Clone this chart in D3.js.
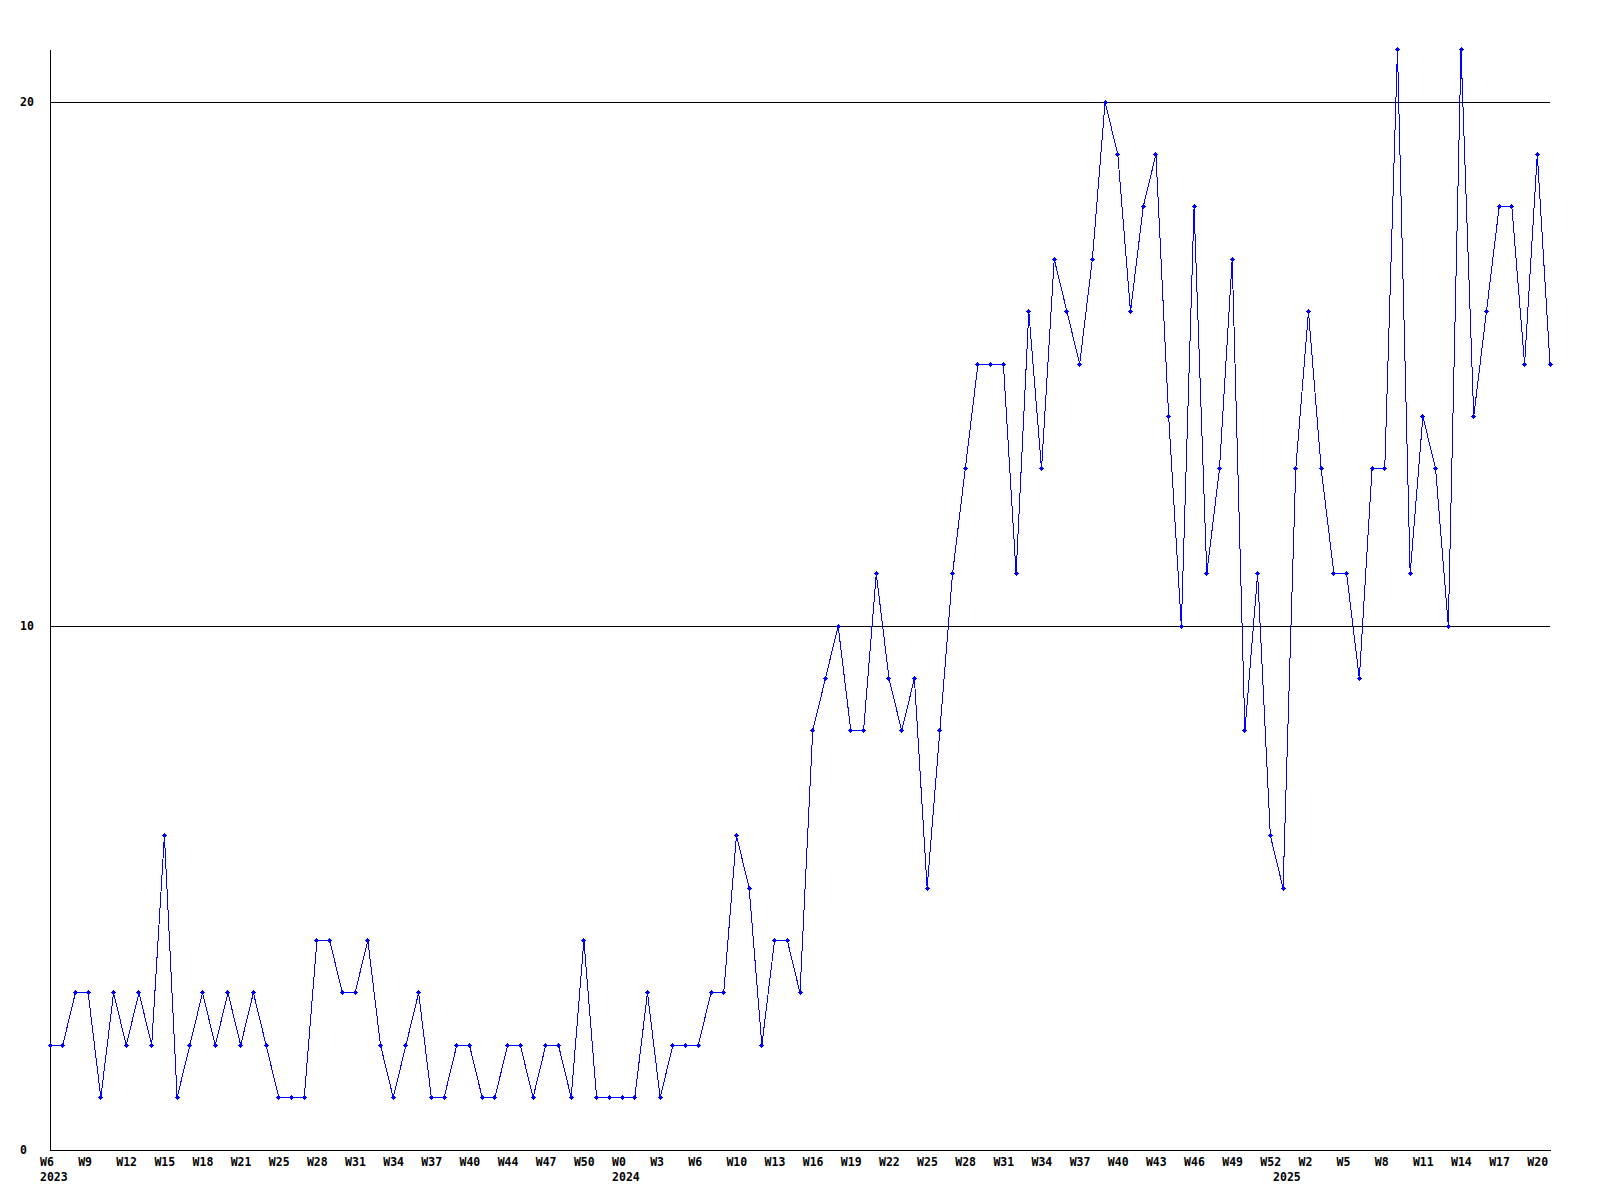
<!DOCTYPE html>
<html>
<head>
<meta charset="utf-8">
<script src="https://cdn.jsdelivr.net/npm/d3@7"></script>
<style>
  html, body { margin: 0; padding: 0; background: #fff; }
  svg { display: block; }
  text { font-family: "DejaVu Sans Mono", "Liberation Mono", monospace; font-weight: bold; font-size: 11.5px; fill: #000; }
</style>
</head>
<body>
<svg id="chart" width="1600" height="1200"></svg>
<script>
// Weekly values, W6 2023 .. W21 2025 (119 points)
const values = [
  2, 2, 3, 3, 1, 3, 2, 3, 2, 6,
  1, 2, 3, 2, 3, 2, 3, 2, 1, 1,
  1, 4, 4, 3, 3, 4, 2, 1, 2, 3,
  1, 1, 2, 2, 1, 1, 2, 2, 1, 2,
  2, 1, 4, 1, 1, 1, 1, 3, 1, 2,
  2, 2, 3, 3, 6, 5, 2, 4, 4, 3,
  8, 9, 10, 8, 8, 11, 9, 8, 9, 5,
  8, 11, 13, 15, 15, 15, 11, 16, 13, 17,
  16, 15, 17, 20, 19, 16, 18, 19, 14, 10,
  18, 11, 13, 17, 8, 11, 6, 5, 13, 16,
  13, 11, 11, 9, 13, 13, 21, 11, 14, 13,
  10, 21, 14, 16, 18, 18, 15, 19, 15
];

// x-axis week labels, one every third point
const weekLabels = [
  "W6", "W9", "W12", "W15", "W18", "W21", "W25", "W28", "W31", "W34",
  "W37", "W40", "W44", "W47", "W50", "W0", "W3", "W6", "W10", "W13",
  "W16", "W19", "W22", "W25", "W28", "W31", "W34", "W37", "W40", "W43",
  "W46", "W49", "W52", "W2", "W5", "W8", "W11", "W14", "W17", "W20"
];
const weekLabelStep = 3;

// year labels and the point index they sit under
const yearLabels = ["2023", "2024", "2025"];
const yearLabelIndex = [0, 45, 97];

const yTicks = [0, 10, 20];
const yMax = 21;

const svg = d3.select("#chart");
const left = 50, right = 1550, bottom = 1150, ref20 = 102;

const x = d3.scalePoint().domain(d3.range(values.length)).range([left, right]);
const yPerUnit = (bottom - ref20) / 20;
const y = d3.scaleLinear().domain([0, yMax]).range([bottom, bottom - yMax * yPerUnit]);

// horizontal grid lines (non-zero ticks)
svg.append("g").selectAll("line")
  .data(yTicks.filter(d => d > 0))
  .join("line")
  .attr("x1", left).attr("x2", right)
  .attr("y1", d => Math.round(y(d)) + 0.5).attr("y2", d => Math.round(y(d)) + 0.5)
  .attr("stroke", "#000").attr("stroke-width", 1)
  .attr("shape-rendering", "crispEdges");

// axes lines
svg.append("line")
  .attr("x1", left + 0.5).attr("x2", left + 0.5)
  .attr("y1", Math.round(y(0)) + 0.5).attr("y2", Math.round(y(yMax)))
  .attr("stroke", "#000").attr("shape-rendering", "crispEdges");
svg.append("line")
  .attr("x1", left).attr("x2", right + 1)
  .attr("y1", Math.round(y(0)) + 0.5).attr("y2", Math.round(y(0)) + 0.5)
  .attr("stroke", "#000").attr("shape-rendering", "crispEdges");

// y labels
svg.append("g").selectAll("text")
  .data(yTicks)
  .join("text")
  .attr("x", 20)
  .attr("y", d => y(d) + 4)
  .text(d => d);

// x week labels
svg.append("g").selectAll("text")
  .data(weekLabels)
  .join("text")
  .attr("x", (d, i) => x(i * weekLabelStep) - 10)
  .attr("y", 1166)
  .text(d => d);

// year labels
svg.append("g").selectAll("text")
  .data(yearLabels)
  .join("text")
  .attr("x", (d, i) => x(yearLabelIndex[i]) - 10)
  .attr("y", 1181)
  .text(d => d);

// line
const line = d3.line().x((d, i) => x(i)).y(d => y(d));
svg.append("path")
  .datum(values)
  .attr("d", line)
  .attr("fill", "none")
  .attr("stroke", "#0000ff")
  .attr("stroke-width", 1)
  .attr("shape-rendering", "crispEdges");

// markers (small plus with a solid centre)
svg.append("g").selectAll("path")
  .data(values)
  .join("path")
  .attr("transform", (d, i) => `translate(${Math.floor(x(i))},${Math.floor(y(d))})`)
  .attr("d", "M-2,0h5v1h-5z M0,-2h1v5h-1z M-1,-1h3v3h-3z")
  .attr("fill", "#0000ff")
  .attr("shape-rendering", "crispEdges");
</script>
</body>
</html>
